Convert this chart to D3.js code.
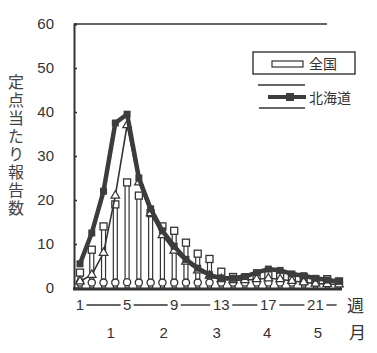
<!DOCTYPE html>
<html>
<head>
<meta charset="utf-8">
<script src="https://cdn.jsdelivr.net/npm/d3@7"></script>
<style>
  body { margin: 0; background: #fff; }
  svg text { fill: #333; }
  .num { font-family: "Liberation Sans", Arial, sans-serif; font-size: 15px; }
  .jp { font-family: "Noto Sans CJK JP", sans-serif; font-size: 14px; }
</style>
</head>
<body>
<script>
// weeks 1..23
var weeks = d3.range(1, 24);
// 全国 (bars)
var zenkoku = [3.5, 8.7, 14, 19, 24, 21, 17, 14, 13, 10.3, 7.8, 6.6, 3.7, 2.5, 2.3, 2.5, 3, 3, 2.5, 2.5, 2, 2, 1.5];
// 北海道 (thick line)
var hokkaido = [5.5, 12.5, 22, 37.5, 39.5, 25, 18, 13, 9.5, 6.5, 4.5, 3, 2.2, 2.2, 2.6, 3.5, 4.3, 4, 3.2, 2.8, 2.2, 1.8, 1.5];
// unlabeled series (triangles)
var triSeries = [1.5, 3, 8, 21, 37, 24, 17, 12, 8.5, 6, 4, 2.8, 2, 1.8, 1.8, 2, 2.2, 2, 1.6, 1.3, 1, 0.9, 0.8];
// unlabeled series (circles near zero)
var circSeries = [1, 1, 1, 1, 1.1, 1, 1, 1, 1, 1, 1, 1, 1, 1, 1, 1, 1, 1, 1, 1, 1, 1, 1];

var yTicks = [0, 10, 20, 30, 40, 50, 60];
var weekTicks = [1, 5, 9, 13, 17, 21];
var monthLabels = ["1", "2", "3", "4", "5"];
var monthAt = [3.6, 8.1, 12.6, 16.9, 21.2];   // week position of month label

var width = 377, height = 353;
var ink = "#333";

var svg = d3.select("body").append("svg")
    .attr("width", width)
    .attr("height", height);

var x = d3.scaleLinear().domain([1, 23]).range([80, 339]);
var y = d3.scaleLinear().domain([0, 60]).range([288, 24]);

// y axis, ticks inside
var yAxis = svg.append("g")
    .attr("transform", "translate(74,0)")
    .call(d3.axisLeft(y).tickValues(yTicks).tickSize(-3).tickPadding(20));
yAxis.select(".domain").attr("stroke", ink).attr("stroke-width", 2);
yAxis.selectAll(".tick line").attr("stroke", ink).attr("stroke-width", 1.5);
yAxis.selectAll("text").attr("class", "num").attr("fill", ink);

// top line at 60
svg.append("line")
    .attr("x1", 74).attr("x2", 327)
    .attr("y1", y(60)).attr("y2", y(60))
    .attr("stroke", ink).attr("stroke-width", 1.5);

// y title
svg.append("text")
    .attr("class", "jp")
    .attr("transform", "translate(16,74)")
    .style("font-size", "16px")
    .style("writing-mode", "vertical-rl")
    .style("letter-spacing", "2px")
    .style("fill", "#444")
    .text("定点当たり報告数");

// bars (全国)
var bw = 4;
svg.selectAll("rect.bar")
    .data(zenkoku)
    .enter().append("rect")
    .attr("class", "bar")
    .attr("x", function(d, i) { return x(weeks[i]) - bw / 2; })
    .attr("y", function(d) { return y(d); })
    .attr("width", bw)
    .attr("height", function(d) { return y(0) - y(d); })
    .attr("fill", "#fff")
    .attr("stroke", ink)
    .attr("stroke-width", 1.2);

svg.selectAll("rect.cap")
    .data(zenkoku)
    .enter().append("rect")
    .attr("class", "cap")
    .attr("x", function(d, i) { return x(weeks[i]) - 3.5; })
    .attr("y", function(d) { return y(d) - 3.5; })
    .attr("width", 7)
    .attr("height", 7)
    .attr("fill", "#fff")
    .attr("stroke", ink)
    .attr("stroke-width", 1.3);

// bottom axis line
svg.append("line")
    .attr("x1", 73).attr("x2", 342)
    .attr("y1", y(0) + 1).attr("y2", y(0) + 1)
    .attr("stroke", ink).attr("stroke-width", 3);

// circles near zero
svg.selectAll("circle.low")
    .data(circSeries)
    .enter().append("circle")
    .attr("class", "low")
    .attr("cx", function(d, i) { return x(weeks[i]); })
    .attr("cy", function(d) { return y(d) - 1; })
    .attr("r", 3.6)
    .attr("fill", "#fff")
    .attr("stroke", ink)
    .attr("stroke-width", 1.3);

// triangle series
var line = d3.line()
    .x(function(d, i) { return x(weeks[i]); })
    .y(function(d) { return y(d); });

svg.append("path")
    .datum(triSeries)
    .attr("d", line)
    .attr("fill", "none")
    .attr("stroke", ink)
    .attr("stroke-width", 1.6);

svg.selectAll("path.tri")
    .data(triSeries)
    .enter().append("path")
    .attr("class", "tri")
    .attr("d", d3.symbol().type(d3.symbolTriangle).size(32))
    .attr("transform", function(d, i) { return "translate(" + x(weeks[i]) + "," + y(d) + ")"; })
    .attr("fill", "#fff")
    .attr("stroke", ink)
    .attr("stroke-width", 1.2);

// 北海道 thick line
svg.append("path")
    .datum(hokkaido)
    .attr("d", line)
    .attr("fill", "none")
    .attr("stroke", "#3c3c3c")
    .attr("stroke-width", 4.5)
    .attr("stroke-linejoin", "round");

svg.selectAll("rect.hk")
    .data(hokkaido)
    .enter().append("rect")
    .attr("class", "hk")
    .attr("x", function(d, i) { return x(weeks[i]) - 3.5; })
    .attr("y", function(d) { return y(d) - 3.5; })
    .attr("width", 7)
    .attr("height", 7)
    .attr("fill", "#3c3c3c");

// week labels with dashes between
var weekY = 305;
svg.selectAll("text.wk")
    .data(weekTicks)
    .enter().append("text")
    .attr("class", "num")
    .attr("x", function(d) { return x(d); })
    .attr("y", weekY + 5)
    .attr("text-anchor", "middle")
    .text(function(d) { return d; });

var gaps = weekTicks.map(function(d) { return String(d).length * 4.5 + 2; });
for (var i = 0; i < weekTicks.length; i++) {
    var a = x(weekTicks[i]) + gaps[i];
    var b = i < weekTicks.length - 1 ? x(weekTicks[i + 1]) - gaps[i + 1] : x(22.8);
    svg.append("line")
        .attr("x1", a).attr("x2", b)
        .attr("y1", weekY).attr("y2", weekY)
        .attr("stroke", ink).attr("stroke-width", 1.4);
}
svg.append("text")
    .attr("class", "jp")
    .style("font-size", "17px")
    .attr("x", 347).attr("y", weekY + 7)
    .text("週");

// month labels
svg.selectAll("text.mo")
    .data(monthLabels)
    .enter().append("text")
    .attr("class", "num")
    .attr("x", function(d, i) { return x(monthAt[i]); })
    .attr("y", 338)
    .attr("text-anchor", "middle")
    .text(function(d) { return d; });
svg.append("text")
    .attr("class", "jp")
    .style("font-size", "17px")
    .attr("x", 349).attr("y", 339)
    .text("月");

// legend
var lg = svg.append("g");
lg.append("rect")
    .attr("x", 253).attr("y", 52).attr("width", 102).attr("height", 22)
    .attr("fill", "none").attr("stroke", ink).attr("stroke-width", 1.4);
lg.append("rect")
    .attr("x", 272).attr("y", 61).attr("width", 31).attr("height", 6)
    .attr("fill", "#fff").attr("stroke", ink).attr("stroke-width", 1.2);
lg.append("text")
    .attr("class", "jp")
    .attr("x", 309).attr("y", 69)
    .text("全国");
lg.append("line")
    .attr("x1", 258).attr("x2", 305).attr("y1", 85).attr("y2", 85)
    .attr("stroke", ink).attr("stroke-width", 1.3);
lg.append("line")
    .attr("x1", 268).attr("x2", 306).attr("y1", 97).attr("y2", 97)
    .attr("stroke", "#3c3c3c").attr("stroke-width", 4);
lg.append("rect")
    .attr("x", 286).attr("y", 93).attr("width", 8).attr("height", 8)
    .attr("fill", "#3c3c3c");
lg.append("line")
    .attr("x1", 259).attr("x2", 305).attr("y1", 108).attr("y2", 108)
    .attr("stroke", ink).attr("stroke-width", 1.3);
lg.append("text")
    .attr("class", "jp")
    .attr("x", 309).attr("y", 103)
    .text("北海道");
</script>
</body>
</html>
